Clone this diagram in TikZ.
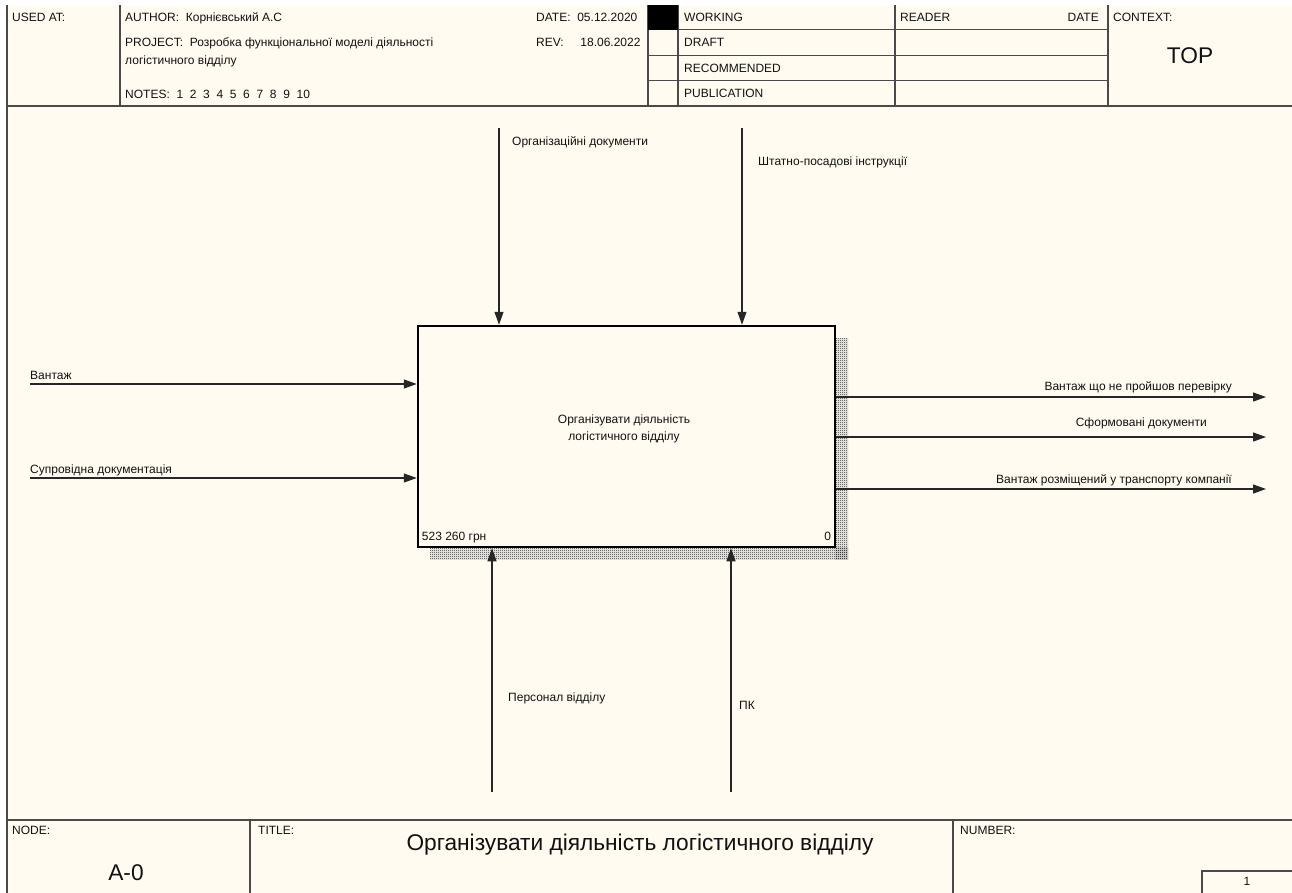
\documentclass[tikz,border=0pt]{standalone}
\usepackage{fontspec}
\setmainfont{Liberation Sans}
\usetikzlibrary{arrows.meta,patterns.meta}
\definecolor{paper}{HTML}{FFFBF0}
\definecolor{ink}{HTML}{111111}
\definecolor{rulegray}{HTML}{4A4A4A}
\definecolor{shadowgray}{HTML}{1E1E1E}

% fine checkerboard used for the box shadow
\pgfdeclarepattern{
  name=checker, type=uncolored,
  bottom left={\pgfpointorigin}, top right={\pgfpoint{2pt}{2pt}},
  tile size={\pgfpoint{2pt}{2pt}},
  code={
    \pgfpathrectangle{\pgfpointorigin}{\pgfpoint{1pt}{1pt}}
    \pgfpathrectangle{\pgfpoint{1pt}{1pt}}{\pgfpoint{1pt}{1pt}}
    \pgfusepath{fill}
  }
}

\tikzset{
  lbl/.style={font=\fontsize{12}{12}\selectfont, text=ink, inner sep=0pt},
  big/.style={font=\fontsize{22.7}{23}\selectfont, text=ink, inner sep=0pt},
  frameline/.style={draw=rulegray, line width=1.4pt},
  gridline/.style={draw=rulegray, line width=1pt},
  flow/.style={draw=black!85, line width=1.2pt, -{Triangle[length=13pt,width=9pt]}},
  activity/.style={draw=black, line width=2.5pt, fill=paper, minimum width=417pt,
    minimum height=221pt, inner sep=0pt},
  boxtext/.style={font=\fontsize{12}{17}\selectfont, text=ink, align=center, inner sep=0pt},
  boxshadow/.style={pattern=checker, pattern color=shadowgray},
}

\begin{document}
\begin{tikzpicture}[x=1pt,y=-1pt]
\useasboundingbox (0,0) rectangle (1292,893);
\fill[white] (0,0) rectangle (1292,893);
\fill[paper] (7,5) rectangle (1292,893);

% ---- header frame ----
\draw[frameline] (7,5) -- (7,893);
\draw[frameline] (7,106) -- (1292,106);
\draw[frameline] (120,5) -- (120,106);
\draw[frameline] (648,5) -- (648,106);
\draw[frameline] (678,5) -- (678,106);
\draw[frameline] (895,5) -- (895,106);
\draw[frameline] (1108,5) -- (1108,106);
\foreach \yy in {30,55.5,81} \draw[gridline] (648,\yy) -- (1108,\yy);
\fill[black] (648,5) rectangle (678,30);

% ---- header texts ----
\node[lbl, anchor=base west] (usedat) at (12,21.5) {USED AT:};
\node[lbl, anchor=base west] (author) at (125,21.5) {AUTHOR:\ \ Корнієвський А.С};
\node[lbl, anchor=base west] (project) at (125,46.5) {PROJECT:\ \ Розробка функціональної моделі діяльності};
\node[lbl, anchor=base west] (project2) at (125,64.5) {логістичного відділу};
\node[lbl, anchor=base west] (notes) at (125,98.5) {NOTES:\ \ 1\ \ 2\ \ 3\ \ 4\ \ 5\ \ 6\ \ 7\ \ 8\ \ 9\ \ 10};
\node[lbl, anchor=base west] (date) at (536,21.5) {DATE:\ \ 05.12.2020};
\node[lbl, anchor=base west] (rev) at (536,46.5) {REV:\ \ \ \ \ 18.06.2022};
\node[lbl, anchor=base west] (working) at (684,21.5) {WORKING};
\node[lbl, anchor=base west] (draft) at (684,46.5) {DRAFT};
\node[lbl, anchor=base west] (recom) at (684,72.5) {RECOMMENDED};
\node[lbl, anchor=base west] (publ) at (684,97.5) {PUBLICATION};
\node[lbl, anchor=base west] (reader) at (900,21.5) {READER};
\node[lbl, anchor=base east] (rdate) at (1099,21.5) {DATE};
\node[lbl, anchor=base west] (context) at (1113,21.5) {CONTEXT:};
\node[big, anchor=base] (top) at (1190,64) {TOP};

% ---- footer ----
\draw[frameline] (7,820) -- (1292,820);
\draw[frameline] (250,820) -- (250,893);
\draw[frameline] (953,820) -- (953,893);
\draw[frameline] (1202,893) -- (1202,871) -- (1292,871);
\node[lbl, anchor=base west] (nodelbl) at (12,834.5) {NODE:};
\node[big, anchor=base] (nodeid) at (126,880) {A-0};
\node[lbl, anchor=base west] (titlelbl) at (258,834.5) {TITLE:};
\node[big, anchor=base] (title) at (640,850) {Організувати діяльність логістичного відділу};
\node[lbl, anchor=base west] (numlbl) at (960,834.5) {NUMBER:};
\node[lbl, anchor=base] (pagenum) at (1247,885) {1};

% ---- activity box with its shadow ----
\fill[boxshadow] (835,338) rectangle (848,559);
\fill[boxshadow] (430,547) rectangle (848,559);
\node[activity] (act) at (626.5,436.5) {};
\node[boxtext, anchor=base] (acttext) at (624,440.5) {Організувати діяльність\\логістичного відділу};
\node[lbl, anchor=base west] (cost) at ([shift={(5,-8)}]act.south west) {523 260 грн};
\node[lbl, anchor=base east] (num) at ([shift={(-5,-8)}]act.south east) {0};

% ---- controls ----
\coordinate (c1) at (499,128);
\coordinate (c2) at (742,128);
\draw[flow] (c1) -- (c1 |- act.north);
\draw[flow] (c2) -- (c2 |- act.north);
\node[lbl, anchor=base west] (c1l) at (512,145.5) {Організаційні документи};
\node[lbl, anchor=base west] (c2l) at (758,165.5) {Штатно-посадові інструкції};

% ---- inputs ----
\coordinate (i1) at (30,384);
\coordinate (i2) at (30,478);
\draw[flow] (i1) -- (i1 -| act.west);
\draw[flow] (i2) -- (i2 -| act.west);
\node[lbl, anchor=base west] (i1l) at (30,379.5) {Вантаж};
\node[lbl, anchor=base west] (i2l) at (30,473.5) {Супровідна документація};

% ---- outputs ----
\coordinate (o1) at (1266,397);
\coordinate (o2) at (1266,437);
\coordinate (o3) at (1266,489);
\draw[flow] (o1 -| act.east) -- (o1);
\draw[flow] (o2 -| act.east) -- (o2);
\draw[flow] (o3 -| act.east) -- (o3);
\node[lbl, anchor=base east] (o1l) at (1232,390.5) {Вантаж що не пройшов перевірку};
\node[lbl, anchor=base east] (o2l) at (1207,426.5) {Сформовані документи};
\node[lbl, anchor=base east] (o3l) at (1232,483.5) {Вантаж розміщений у транспорту компанії};

% ---- mechanisms ----
\coordinate (m1) at (492,792);
\coordinate (m2) at (731,792);
\draw[flow] (m1) -- (m1 |- act.south);
\draw[flow] (m2) -- (m2 |- act.south);
\node[lbl, anchor=base west] (m1l) at (508,701.5) {Персонал відділу};
\node[lbl, anchor=base west] (m2l) at (739,709.5) {ПК};
\end{tikzpicture}
\end{document}
